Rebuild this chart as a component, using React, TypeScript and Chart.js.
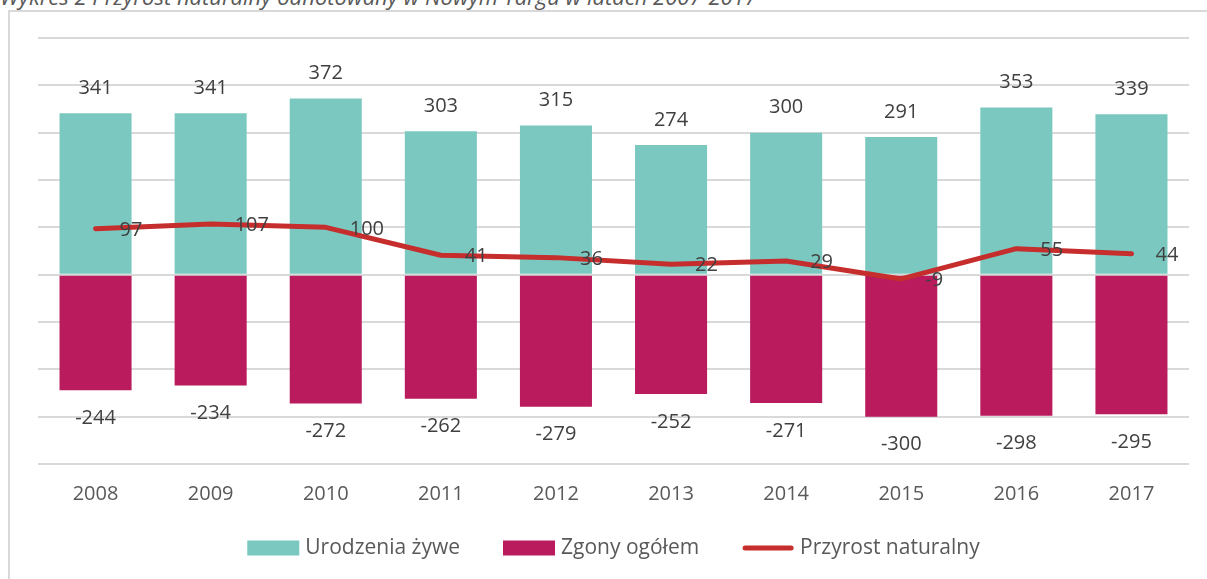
import React, { useEffect, useRef } from "react";
import { Chart, registerables } from "chart.js";

Chart.register(...registerables);

const FONT = "'Open Sans', sans-serif";

const years = ["2008", "2009", "2010", "2011", "2012", "2013", "2014", "2015", "2016", "2017"];
const births = [341, 341, 372, 303, 315, 274, 300, 291, 353, 339];
const deaths = [-244, -234, -272, -262, -279, -252, -271, -300, -298, -295];
const growth = [97, 107, 100, 41, 36, 22, 29, -9, 55, 44];
const seriesNames = ["Urodzenia żywe", "Zgony ogółem", "Przyrost naturalny"];
const seriesColors = ["#7bc8c1", "#b91b5d", "#c62d2d"];
const yMin = -400;
const yMax = 500;
const yStep = 100;
const titleText = "Wykres 2 Przyrost naturalny odnotowany w Nowym Targu w latach 2007-2017";

const valueLabels = {
  id: "valueLabels",
  afterDatasetsDraw(chart: any) {
    const ctx = chart.ctx;
    ctx.save();
    ctx.font = `20px ${FONT}`;
    ctx.fillStyle = "#404040";
    chart.data.datasets.forEach((ds: any, i: number) => {
      const meta = chart.getDatasetMeta(i);
      meta.data.forEach((el: any, j: number) => {
        const v = ds.data[j];
        const text = String(v);
        ctx.textBaseline = "middle";
        if (ds.type === "line") {
          ctx.textAlign = "left";
          ctx.fillText(text, el.x + 24, el.y + 1.5);
        } else if (v >= 0) {
          ctx.textAlign = "center";
          ctx.fillText(text, el.x, el.y - 25);
        } else {
          ctx.textAlign = "center";
          ctx.fillText(text, el.x, el.y + 28);
        }
      });
    });
    ctx.restore();
  },
};

const customLegend = {
  id: "customLegend",
  afterDraw(chart: any) {
    const ctx = chart.ctx;
    const area = chart.chartArea;
    ctx.save();
    ctx.font = `21px ${FONT}`;
    const boxW = 52;
    const boxH = 15;
    const gap = 6;
    const spacing = 43;
    const widths = seriesNames.map((n) => boxW + gap + ctx.measureText(n).width);
    const total = widths.reduce((a, b) => a + b, 0) + spacing * (seriesNames.length - 1);
    let x = (area.left + area.right) / 2 - total / 2;
    const cy = 548;
    seriesNames.forEach((name, i) => {
      if (i === 2) {
        ctx.strokeStyle = seriesColors[i];
        ctx.lineWidth = 5;
        ctx.lineCap = "round";
        ctx.beginPath();
        ctx.moveTo(x + 3, cy);
        ctx.lineTo(x + boxW - 3, cy);
        ctx.stroke();
      } else {
        ctx.fillStyle = seriesColors[i];
        ctx.fillRect(x, cy - boxH / 2, boxW, boxH);
      }
      ctx.fillStyle = "#595959";
      ctx.textAlign = "left";
      ctx.textBaseline = "middle";
      ctx.fillText(name, x + boxW + gap, cy);
      x += widths[i] + spacing;
    });
    ctx.restore();
  },
};

export default function App() {
  const canvasRef = useRef<HTMLCanvasElement | null>(null);

  useEffect(() => {
    if (!canvasRef.current) return;
    const chart = new Chart(canvasRef.current, {
      type: "bar",
      data: {
        labels: years,
        datasets: [
          {
            type: "line",
            label: seriesNames[2],
            data: growth,
            borderColor: seriesColors[2],
            backgroundColor: seriesColors[2],
            borderWidth: 5,
            pointRadius: 0,
            tension: 0,
            borderCapStyle: "round",
            borderJoinStyle: "round",
            order: 0,
          } as any,
          {
            type: "bar",
            label: seriesNames[0],
            data: births,
            backgroundColor: seriesColors[0],
            barPercentage: 0.626,
            categoryPercentage: 1,
            order: 1,
          },
          {
            type: "bar",
            label: seriesNames[1],
            data: deaths,
            backgroundColor: seriesColors[1],
            barPercentage: 0.626,
            categoryPercentage: 1,
            order: 2,
          },
        ],
      },
      options: {
        animation: false,
        responsive: false,
        maintainAspectRatio: false,
        layout: { padding: { left: 38, right: 18, top: 38, bottom: 55 } },
        plugins: {
          legend: { display: false },
          tooltip: { enabled: false },
          title: { display: false },
        },
        scales: {
          x: {
            stacked: true,
            grid: { display: false, drawTicks: false },
            border: { display: false },
            ticks: {
              color: "#595959",
              font: { family: FONT, size: 20 },
              padding: 18,
            },
          },
          y: {
            stacked: true,
            min: yMin,
            max: yMax,
            ticks: { stepSize: yStep, display: false },
            grid: { color: "#d9d9d9", lineWidth: 2, drawTicks: false },
            border: { display: false },
            afterFit(axis: any) {
              axis.width = 0;
            },
          },
        },
      },
      plugins: [valueLabels, customLegend],
    });
    return () => chart.destroy();
  }, []);

  return (
    <div
      style={{
        position: "absolute",
        left: 0,
        top: 0,
        width: 1207,
        height: 579,
        overflow: "hidden",
        background: "#ffffff",
      }}
    >
      <div
        style={{
          position: "absolute",
          left: 0,
          top: -14,
          whiteSpace: "nowrap",
          fontFamily: FONT,
          fontStyle: "italic",
          fontSize: 22,
          lineHeight: "20px",
          color: "#595959",
        }}
      >
        {titleText}
      </div>
      <div
        style={{
          position: "absolute",
          left: 8,
          top: 10,
          width: 1300,
          height: 700,
          borderLeft: "2px solid #d9d9d9",
          borderTop: "2px solid #d9d9d9",
        }}
      />
      <canvas
        ref={canvasRef}
        width={1207}
        height={579}
        style={{ position: "absolute", left: 0, top: 0, width: 1207, height: 579 }}
      />
    </div>
  );
}
